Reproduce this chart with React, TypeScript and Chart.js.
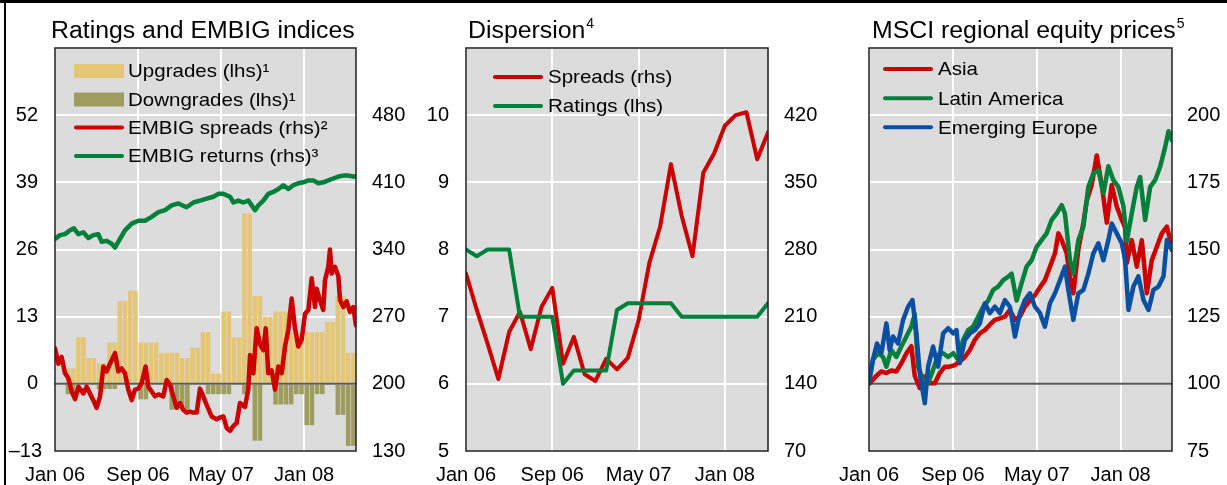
import React, { useEffect, useRef } from "react";
import { Chart, registerables } from "chart.js";

Chart.register(...registerables);

const FONT = "'Liberation Sans', Arial, Helvetica, sans-serif";
const BG = "#dcdcdc";
const RED = "#cc0000";
const GREEN = "#00803a";
const BLUE = "#0b4fa2";
const TAN = "#e5c677";
const OLIVE = "#9e9c5f";

// ---- shared time axis (months since Jan 2006) ----
const xTickMonths = [0, 8, 16, 24];
const xTickLabels = ["Jan 06", "Sep 06", "May 07", "Jan 08"];

// ---- Panel 1: Ratings and EMBIG indices ----
// semi-monthly rating actions (lhs)
const upgrades = [0, 0, 3, 3, 9, 9, 5, 5, 4, 4, 8, 8, 16, 16, 18, 18, 8, 8, 8, 8, 6, 6, 6, 6, 5, 5, 7, 7, 10, 10, 2, 2, 14, 14, 9, 9, 33, 33, 17, 17, 13, 13, 14, 14, 14, 10, 10, 10, 10, 10, 10, 10, 12, 12, 17, 17, 6, 6];
const downgrades = [0, 0, -2, -2, 0, 0, 0, 0, -1, -1, -1, -1, 0, 0, 0, 0, -3, -3, 0, 0, 0, 0, -5, -5, -5, -5, 0, 0, 0, -2, -2, -2, -2, -2, 0, 0, -2, 0, -11, -11, 0, 0, -4, -4, -4, -4, -2, -2, -8, -8, -2, -2, 0, 0, -6, -6, -12, -12];
// [month, value] (rhs)
const embigSpreads: [number, number][] = [[0, 237], [0.32, 221], [0.64, 228], [0.96, 211], [1.28, 206], [1.61, 192], [1.93, 184], [2.25, 197], [2.73, 190], [3.05, 197], [3.37, 190], [3.69, 183], [4.01, 175], [4.34, 187], [4.66, 218], [4.98, 213], [5.3, 221], [5.78, 232], [6.1, 213], [6.42, 216], [6.74, 211], [7.06, 194], [7.39, 183], [7.71, 194], [8.03, 195], [8.35, 201], [8.73, 218], [8.99, 197], [9.31, 192], [9.63, 187], [9.96, 189], [10.44, 187], [10.76, 204], [11.08, 199], [11.4, 187], [11.72, 175], [12.04, 180], [12.36, 173], [12.68, 170], [13.01, 171], [13.33, 170], [13.65, 170], [13.97, 195], [14.29, 187], [14.61, 178], [15.09, 166], [15.57, 163], [15.9, 165], [16.22, 166], [16.54, 154], [16.86, 151], [17.18, 156], [17.5, 159], [17.82, 180], [18.3, 176], [18.62, 194], [18.79, 230], [19.11, 211], [19.43, 258], [19.75, 241], [20.07, 235], [20.3, 258], [20.55, 211], [20.87, 214], [21.2, 194], [21.52, 218], [21.84, 211], [22.16, 239], [22.48, 256], [22.8, 289], [23.12, 258], [23.44, 239], [23.76, 246], [24.09, 273], [24.41, 277], [24.73, 310], [25.05, 280], [25.21, 299], [25.53, 287], [25.85, 277], [26.01, 308], [26.33, 322], [26.49, 340], [26.65, 315], [26.97, 322], [27.3, 312], [27.46, 287], [27.78, 280], [28.1, 286], [28.42, 275], [28.74, 280], [29, 261]];
const embigReturns: [number, number][] = [[0, 351], [0.48, 355], [0.96, 356], [1.45, 360], [1.83, 362], [2.25, 356], [2.73, 358], [3.21, 352], [3.69, 355], [4.17, 356], [4.5, 348], [4.98, 349], [5.46, 346], [5.78, 342], [6.26, 351], [6.74, 360], [7.39, 367], [8.03, 370], [8.67, 370], [9.31, 374], [9.96, 379], [10.6, 381], [11.24, 386], [11.88, 388], [12.68, 384], [13.33, 389], [13.97, 391], [14.61, 393], [15.25, 395], [15.74, 398], [16.22, 398], [16.86, 395], [17.18, 389], [17.66, 391], [18.14, 389], [18.63, 391], [18.95, 386], [19.27, 381], [19.59, 386], [20.07, 391], [20.55, 398], [21.03, 400], [21.52, 403], [22.0, 407], [22.48, 403], [22.96, 407], [23.44, 409], [23.92, 410], [24.41, 412], [24.89, 412], [25.37, 409], [25.85, 410], [26.33, 412], [26.81, 414], [27.3, 416], [27.78, 417], [28.26, 417], [28.74, 416], [29, 416]];
const p1LeftTicks = [-13, 0, 13, 26, 39, 52, 65];
const p1RightTicks = [130, 200, 270, 340, 410, 480, 550];

// ---- Panel 2: Dispersion (monthly, Jan 06 .. May 08) ----
const dispSpreads = [255, 217, 182, 145, 194, 215, 176, 220, 240, 161, 189, 150, 143, 166, 155, 167, 206, 266, 304, 369, 315, 273, 360, 380, 409, 420, 423, 374, 402];
const dispRatings = [8.0, 7.9, 8.0, 8.0, 8.0, 7.0, 7.0, 7.0, 7.0, 6.0, 6.2, 6.2, 6.2, 6.2, 7.1, 7.2, 7.2, 7.2, 7.2, 7.2, 7.0, 7.0, 7.0, 7.0, 7.0, 7.0, 7.0, 7.0, 7.2];
const p2LeftTicks = [5, 6, 7, 8, 9, 10, 11];
const p2RightTicks = [70, 140, 210, 280, 350, 420, 490];

// ---- Panel 3: MSCI regional equity prices ----
const msciAsia: [number, number][] = [[0, 100], [0.38, 101.5], [0.7, 103], [1.18, 104.6], [1.66, 104], [2.13, 105], [2.61, 104.6], [3.09, 107.7], [3.57, 111.4], [4.04, 114], [4.36, 103], [4.84, 98.4], [5.32, 102.7], [5.8, 100.2], [6.27, 100.2], [6.75, 104], [7.23, 106.4], [7.71, 106.4], [8.18, 107], [8.66, 108.3], [9.14, 110], [9.62, 112.6], [10.1, 116.4], [10.57, 118.8], [11.05, 120], [11.53, 122], [12.01, 123.8], [12.48, 124.4], [12.96, 125], [13.44, 127.5], [13.92, 123.8], [14.39, 125], [14.87, 128.7], [15.35, 131], [15.83, 133], [16.31, 136], [16.78, 138.6], [17.26, 143.6], [17.74, 148.6], [18.06, 156], [18.38, 153.5], [18.85, 148.6], [19.17, 140], [19.49, 133.7], [19.97, 150], [20.45, 160], [20.76, 168], [21.24, 174], [21.72, 185], [22.2, 174], [22.68, 160], [23.15, 174], [23.63, 166], [24.11, 161], [24.43, 158], [24.59, 145], [25.06, 153.5], [25.54, 143.6], [26.02, 153.5], [26.5, 133.7], [26.97, 146], [27.45, 151], [27.93, 156], [28.41, 158.5], [28.89, 151]];
const msciLatam: [number, number][] = [[0, 101.5], [0.38, 109], [0.86, 111.4], [1.34, 110], [1.66, 106.4], [2.13, 112.6], [2.61, 110], [3.09, 114], [3.57, 117.6], [4.04, 121.3], [4.36, 126], [4.68, 106.4], [5.16, 101.5], [5.64, 100.2], [6.11, 105.2], [6.59, 110.8], [7.07, 111.4], [7.55, 110], [8.03, 111.4], [8.5, 109], [8.98, 116.4], [9.46, 120], [9.94, 121.3], [10.41, 125], [10.89, 128.7], [11.37, 131], [11.85, 135], [12.32, 136.2], [12.8, 138.6], [13.28, 139.9], [13.6, 141], [14.08, 131], [14.55, 137.4], [15.03, 143.6], [15.51, 146], [15.99, 151], [16.46, 153.5], [16.94, 156], [17.42, 161], [17.9, 163.4], [18.38, 166.5], [18.69, 163.4], [19.17, 146], [19.49, 141], [19.97, 153.5], [20.45, 158.5], [20.92, 173.3], [21.4, 178.3], [21.88, 179.5], [22.36, 170.9], [22.83, 181], [23.31, 175.8], [23.79, 173.3], [24.27, 166], [24.59, 153], [25.06, 163.4], [25.54, 173.3], [25.86, 177], [26.34, 161], [26.82, 173.3], [27.29, 175.8], [27.77, 180.8], [28.25, 188.2], [28.57, 194], [28.89, 190.7]];
const msciEurope: [number, number][] = [[0, 100.2], [0.38, 109], [0.76, 115], [1.18, 111.4], [1.66, 122.5], [1.97, 112.6], [2.29, 117.6], [2.77, 115], [3.25, 123.8], [3.73, 128.7], [4.14, 131.2], [4.52, 118.8], [4.84, 104], [5.32, 92.8], [5.64, 106.4], [6.11, 113.9], [6.59, 106.4], [7.07, 118.8], [7.55, 120.7], [8.03, 118.8], [8.34, 120], [8.66, 107.7], [9.14, 116.4], [9.62, 118.8], [10.1, 120], [10.57, 122.5], [11.05, 130], [11.53, 126.3], [12.01, 128.7], [12.48, 126.3], [12.96, 131.2], [13.44, 128.7], [13.92, 117.6], [14.39, 126.3], [14.87, 131.2], [15.35, 133.7], [15.83, 128.7], [16.31, 126.3], [16.78, 121.3], [17.26, 130], [17.74, 133.7], [18.22, 138.6], [18.69, 143.6], [19.01, 135], [19.49, 123.8], [19.97, 133.7], [20.45, 135], [20.92, 141], [21.4, 148.6], [21.88, 152.3], [22.36, 146], [22.83, 153.5], [23.15, 159.7], [23.63, 156], [24.11, 152.3], [24.43, 146], [24.75, 127.5], [25.22, 136.2], [25.7, 140], [26.18, 131.2], [26.66, 127.5], [27.13, 135], [27.61, 136.2], [28.09, 140], [28.41, 153.5], [28.89, 149.8]];
const p3RightTicks = [75, 100, 125, 150, 175, 200, 225];

// ---------------------------------------------------------------

const pairs = (arr: [number, number][]) => arr.map(([x, y]) => ({ x, y }));
const monthly = (arr: number[]) => arr.map((y, i) => ({ x: i, y }));
const halfMonthly = (arr: number[]) => arr.map((y, k) => ({ x: k * 0.5 + 0.25, y }));

const tickFont = { family: FONT, size: 20 };

const xAxis = (max: number) => ({
  type: "linear",
  position: "bottom",
  min: 0,
  max,
  offset: false,
  afterBuildTicks: (s: any) => {
    s.ticks = xTickMonths.map((v) => ({ value: v }));
  },
  afterFit: (s: any) => {
    s.height = 34;
  },
  ticks: {
    autoSkip: false,
    maxRotation: 0,
    minRotation: 0,
    padding: 12,
    color: "#000",
    font: tickFont,
    callback: (v: any) => {
      const i = xTickMonths.indexOf(Number(v));
      return i >= 0 ? xTickLabels[i] : "";
    },
  },
  grid: { color: "#ffffff", lineWidth: 2, drawTicks: false, offset: false },
  border: { display: false },
});

const yAxis = (
  position: string,
  ticks: number[],
  width: number,
  padding: number,
  showGrid: boolean,
  fmt: (v: number) => string = (v) => String(v)
) => ({
  type: "linear",
  position,
  min: ticks[0],
  max: ticks[ticks.length - 1],
  afterBuildTicks: (s: any) => {
    s.ticks = ticks.map((v) => ({ value: v }));
  },
  afterFit: (s: any) => {
    s.width = width;
  },
  ticks: {
    autoSkip: false,
    padding,
    color: "#000",
    font: tickFont,
    callback: (v: any) => (Number(v) === ticks[ticks.length - 1] ? "" : fmt(Number(v))),
  },
  grid: { display: showGrid, color: "#ffffff", lineWidth: 2, drawTicks: false },
  border: { display: false },
});

const lineDs = (label: string, data: any[], color: string, yAxisID: string, order: number, width: number) => ({
  type: "line",
  label,
  data,
  borderColor: color,
  backgroundColor: color,
  borderWidth: width,
  pointRadius: 0,
  pointHoverRadius: 0,
  tension: 0,
  fill: false,
  borderJoinStyle: "round",
  borderCapStyle: "round",
  yAxisID,
  order,
});

interface DecorOpts {
  title: string;
  sup: string;
  titleDx: number;
  legendDx: number;
  legendTextDx: number;
  legendRows: number[];
  baseAxis?: string;
  baseValue?: number;
  baseAfterIndex?: number;
  extraLabel?: { axis: string; value: number; text: string; dx: number };
}

const STRETCH = 1.08;

function stretchedText(ctx: CanvasRenderingContext2D, text: string, x: number, y: number, sx: number) {
  ctx.save();
  ctx.translate(x, y);
  ctx.scale(sx, 1);
  ctx.fillText(text, 0, 0);
  ctx.restore();
}

function decor(o: DecorOpts) {
  const drawBase = (chart: any) => {
    if (!o.baseAxis) return;
    const a = chart.chartArea;
    const y = chart.scales[o.baseAxis].getPixelForValue(o.baseValue);
    const ctx = chart.ctx as CanvasRenderingContext2D;
    ctx.save();
    ctx.strokeStyle = "#5a5a5a";
    ctx.lineWidth = 2;
    ctx.beginPath();
    ctx.moveTo(a.left, y);
    ctx.lineTo(a.right, y);
    ctx.stroke();
    ctx.restore();
  };
  return {
    id: "decor",
    beforeDraw(chart: any) {
      const a = chart.chartArea;
      const ctx = chart.ctx as CanvasRenderingContext2D;
      ctx.save();
      ctx.fillStyle = BG;
      ctx.fillRect(a.left, a.top, a.right - a.left, a.bottom - a.top);
      ctx.restore();
    },
    beforeDatasetsDraw(chart: any) {
      if (o.baseAfterIndex === undefined) drawBase(chart);
    },
    afterDatasetDraw(chart: any, args: any) {
      if (o.baseAfterIndex !== undefined && args.index === o.baseAfterIndex) drawBase(chart);
    },
    afterDatasetsDraw(chart: any) {
      const a = chart.chartArea;
      const ctx = chart.ctx as CanvasRenderingContext2D;
      ctx.save();
      ctx.strokeStyle = "#1e1e1e";
      ctx.lineWidth = 1.5;
      ctx.strokeRect(a.left, a.top, a.right - a.left, a.bottom - a.top);
      ctx.restore();
    },
    afterDraw(chart: any) {
      const a = chart.chartArea;
      const ctx = chart.ctx as CanvasRenderingContext2D;
      ctx.save();
      ctx.fillStyle = "#000";
      // negative tick label placed like the original
      if (o.extraLabel) {
        const e = o.extraLabel;
        const y = chart.scales[e.axis].getPixelForValue(e.value);
        ctx.font = `20px ${FONT}`;
        ctx.textAlign = "right";
        ctx.textBaseline = "middle";
        ctx.fillText(e.text, a.left + e.dx, y);
      }
      // title
      ctx.textBaseline = "alphabetic";
      ctx.textAlign = "left";
      ctx.font = `23px ${FONT}`;
      const tx = a.left + o.titleDx;
      stretchedText(ctx, o.title, tx, 38, STRETCH);
      const tw = ctx.measureText(o.title).width * STRETCH;
      if (o.sup) {
        ctx.font = `14px ${FONT}`;
        ctx.fillText(o.sup, tx + tw + 1, 28);
      }
      // legend
      ctx.font = `19px ${FONT}`;
      ctx.textBaseline = "middle";
      const sx = a.left + o.legendDx;
      const sw = 50;
      chart.data.datasets.forEach((ds: any, i: number) => {
        const cy = o.legendRows[i];
        if (cy === undefined) return;
        if (ds.type === "bar") {
          ctx.fillStyle = ds.backgroundColor;
          ctx.fillRect(sx, cy - 7, sw, 14);
        } else {
          ctx.strokeStyle = ds.borderColor;
          ctx.lineWidth = 4;
          ctx.lineCap = "round";
          ctx.beginPath();
          ctx.moveTo(sx + 2, cy);
          ctx.lineTo(sx + sw - 2, cy);
          ctx.stroke();
        }
        ctx.fillStyle = "#000";
        stretchedText(ctx, ds.label, a.left + o.legendTextDx, cy + 1, STRETCH);
      });
      ctx.restore();
    },
  };
}

const baseOptions = (scales: any, padLeft: number) => ({
  responsive: true,
  maintainAspectRatio: false,
  animation: false,
  events: [],
  layout: { padding: { top: 48, left: padLeft, right: 0, bottom: 0 } },
  plugins: {
    legend: { display: false },
    tooltip: { enabled: false },
    title: { display: false },
  },
  scales,
});

function panel1Config() {
  return {
    type: "line",
    data: {
      datasets: [
        {
          type: "bar",
          label: "Upgrades (lhs)¹",
          data: halfMonthly(upgrades),
          backgroundColor: TAN,
          borderWidth: 0,
          grouped: false,
          categoryPercentage: 0.88,
          barPercentage: 1,
          yAxisID: "yL",
          order: 11,
        },
        {
          type: "bar",
          label: "Downgrades (lhs)¹",
          data: halfMonthly(downgrades),
          backgroundColor: OLIVE,
          borderWidth: 0,
          grouped: false,
          categoryPercentage: 0.88,
          barPercentage: 1,
          yAxisID: "yL",
          order: 10,
        },
        lineDs("EMBIG spreads (rhs)²", pairs(embigSpreads), RED, "yR", 2, 4.5),
        lineDs("EMBIG returns (rhs)³", pairs(embigReturns), GREEN, "yR", 1, 4.5),
      ],
    },
    options: baseOptions(
      {
        x: xAxis(29),
        yL: yAxis("left", p1LeftTicks, 55, 17, true, (v) => (v < 0 ? "" : String(v))),
        yR: yAxis("right", p1RightTicks, 54, 16, false),
      },
      0
    ),
    plugins: [
      decor({
        title: "Ratings and EMBIG indices",
        sup: "",
        titleDx: -4,
        legendDx: 19,
        legendTextDx: 73,
        legendRows: [71, 99.5, 127.5, 156],
        baseAxis: "yL",
        baseValue: 0,
        baseAfterIndex: 1,
        extraLabel: { axis: "yL", value: -13, text: "–13", dx: -13 },
      }),
    ],
  };
}

function panel2Config() {
  return {
    type: "line",
    data: {
      datasets: [
        lineDs("Spreads (rhs)", monthly(dispSpreads), RED, "yR", 2, 4),
        lineDs("Ratings (lhs)", monthly(dispRatings), GREEN, "yL", 1, 4),
      ],
    },
    options: baseOptions(
      {
        x: xAxis(28),
        yL: yAxis("left", p2LeftTicks, 56, 17, true),
        yR: yAxis("right", p2RightTicks, 52, 16, false),
      },
      0
    ),
    plugins: [
      decor({
        title: "Dispersion",
        sup: "4",
        titleDx: 2,
        legendDx: 27,
        legendTextDx: 82,
        legendRows: [77, 106],
      }),
    ],
  };
}

function panel3Config() {
  return {
    type: "line",
    data: {
      datasets: [
        lineDs("Asia", pairs(msciAsia), RED, "yR", 3, 4.5),
        lineDs("Latin America", pairs(msciLatam), GREEN, "yR", 2, 4.5),
        lineDs("Emerging Europe", pairs(msciEurope), BLUE, "yR", 1, 4.5),
      ],
    },
    options: baseOptions(
      {
        x: xAxis(28.9),
        yR: yAxis("right", p3RightTicks, 55, 15, true),
      },
      49
    ),
    plugins: [
      decor({
        title: "MSCI regional equity prices",
        sup: "5",
        titleDx: 3,
        legendDx: 14,
        legendTextDx: 69,
        legendRows: [69, 98.3, 127.3],
        baseAxis: "yR",
        baseValue: 100,
      }),
    ],
  };
}

function ChartPanel({ left, width, make }: { left: number; width: number; make: () => any }) {
  const ref = useRef<HTMLCanvasElement>(null);
  useEffect(() => {
    const chart = new Chart(ref.current as HTMLCanvasElement, make());
    return () => chart.destroy();
  }, []);
  return (
    <div style={{ position: "absolute", left, top: 0, width, height: 485 }}>
      <canvas ref={ref} />
    </div>
  );
}

export default function App() {
  return (
    <div
      style={{
        position: "absolute",
        left: 0,
        top: 0,
        width: 1227,
        height: 485,
        background: "#fff",
        overflow: "hidden",
      }}
    >
      <ChartPanel left={0} width={410} make={panel1Config} />
      <ChartPanel left={410} width={410} make={panel2Config} />
      <ChartPanel left={820} width={407} make={panel3Config} />
      <div style={{ position: "absolute", left: 0, top: 0, width: 1227, height: 3, background: "#000" }} />
      <div style={{ position: "absolute", left: 4, top: 0, width: 2, height: 485, background: "#000" }} />
    </div>
  );
}
